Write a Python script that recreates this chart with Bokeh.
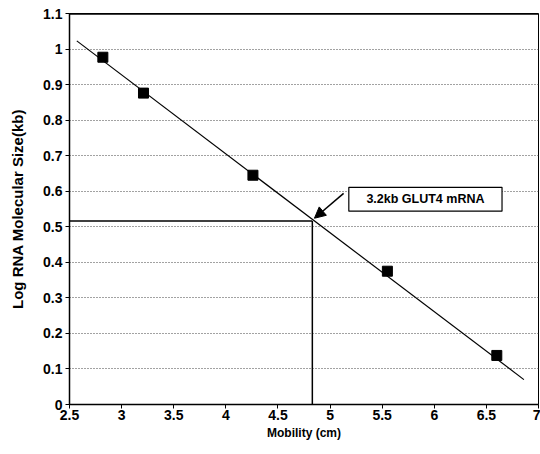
from bokeh.plotting import figure
from bokeh.models import FixedTicker, Arrow, NormalHead, Range1d
from bokeh.core.properties import value
from bokeh.embed import file_html
from bokeh.resources import INLINE

# data
mobility = [2.82, 3.21, 4.26, 5.55, 6.60]
log_size = [0.977, 0.876, 0.645, 0.375, 0.138]
fit_x = [2.57, 6.86]
fit_y = [1.023, 0.070]
glut4_mobility = 4.83
glut4_log_size = 0.516
x_ticks = [2.5, 3, 3.5, 4, 4.5, 5, 5.5, 6, 6.5, 7]
x_tick_labels = ["2.5", "3", "3.5", "4", "4.5", "5", "5.5", "6", "6.5", "7"]
y_ticks = [0, 0.1, 0.2, 0.3, 0.4, 0.5, 0.6, 0.7, 0.8, 0.9, 1.0, 1.1]
y_tick_labels = ["0", "0.1", "0.2", "0.3", "0.4", "0.5", "0.6", "0.7", "0.8", "0.9", "1", "1.1"]
annot_text = "3.2kb GLUT4 mRNA"
annot_box = dict(left=5.18, right=6.65, bottom=0.544, top=0.611)
arrow_from = (5.13, 0.594)

FONT = "Liberation Sans"

p = figure(width=540, height=454, output_backend="svg", toolbar_location=None,
           x_range=Range1d(2.5, 7), y_range=Range1d(0, 1.1),
           min_border_left=69, min_border_right=2, min_border_top=13, min_border_bottom=50)
p.background_fill_color = "white"
p.border_fill_color = "white"
p.outline_line_color = "black"
p.outline_line_width = 1

p.xgrid.grid_line_color = None
p.ygrid.grid_line_color = "#444444"
p.ygrid.grid_line_dash = "1 2"
p.ygrid.grid_line_width = 1

p.xaxis.ticker = FixedTicker(ticks=x_ticks)
p.yaxis.ticker = FixedTicker(ticks=y_ticks)
p.xaxis.major_label_overrides = {t: l for t, l in zip(x_ticks, x_tick_labels)}
p.yaxis.major_label_overrides = {t: l for t, l in zip(y_ticks, y_tick_labels)}
for ax in (p.xaxis, p.yaxis):
    ax.minor_tick_line_color = None
    ax.major_tick_out = 4
    ax.major_tick_in = 0
    ax.axis_line_color = "black"
    ax.axis_line_width = 1.5
    ax.major_tick_line_color = "black"
    ax.major_label_text_font = FONT
    ax.major_label_text_font_style = "bold"
    ax.major_label_text_font_size = "14px"
    ax.major_label_text_color = "black"
    ax.axis_label_text_font = FONT
    ax.axis_label_text_font_style = "bold"
    ax.axis_label_text_color = "black"
p.xaxis.axis_label = "Mobility (cm)"
p.xaxis.axis_label_text_font_size = "12px"
p.xaxis.axis_label_standoff = 3
p.xaxis.major_label_standoff = 1
p.yaxis.axis_label = "Log RNA Molecular Size(kb)"
p.yaxis.axis_label_text_font_size = "15px"
p.yaxis.axis_label_standoff = 14
p.yaxis.major_label_standoff = 3

# thick top border
p.line(x=[2.5, 7], y=[1.1, 1.1], line_color="black", line_width=2.5)

# regression line
p.line(x=fit_x, y=fit_y, line_color="black", line_width=1.2)

# GLUT4 reference lines
p.line(x=[2.5, glut4_mobility], y=[glut4_log_size, glut4_log_size], line_color="black", line_width=1.5)
p.line(x=[glut4_mobility, glut4_mobility], y=[0, glut4_log_size], line_color="black", line_width=1.5)

# standards
p.scatter(x=mobility, y=log_size, marker="square", size=10, fill_color="black", line_color="black")

# annotation
p.quad(left=[annot_box["left"]], right=[annot_box["right"]], bottom=[annot_box["bottom"]],
       top=[annot_box["top"]], fill_color="white", line_color="black", line_width=1.2)
p.text(x=[(annot_box["left"] + annot_box["right"]) / 2], y=[(annot_box["bottom"] + annot_box["top"]) / 2],
       text=[annot_text], text_align="center", text_baseline="middle",
       text_font=value(FONT), text_font_style="bold", text_font_size="12.5px", text_color="black")
p.add_layout(Arrow(end=NormalHead(size=11, fill_color="black", line_color="black"),
                   x_start=arrow_from[0], y_start=arrow_from[1],
                   x_end=glut4_mobility + 0.02, y_end=glut4_log_size + 0.008,
                   line_color="black", line_width=1.5))

open("out.html", "w").write(file_html(p, INLINE))
